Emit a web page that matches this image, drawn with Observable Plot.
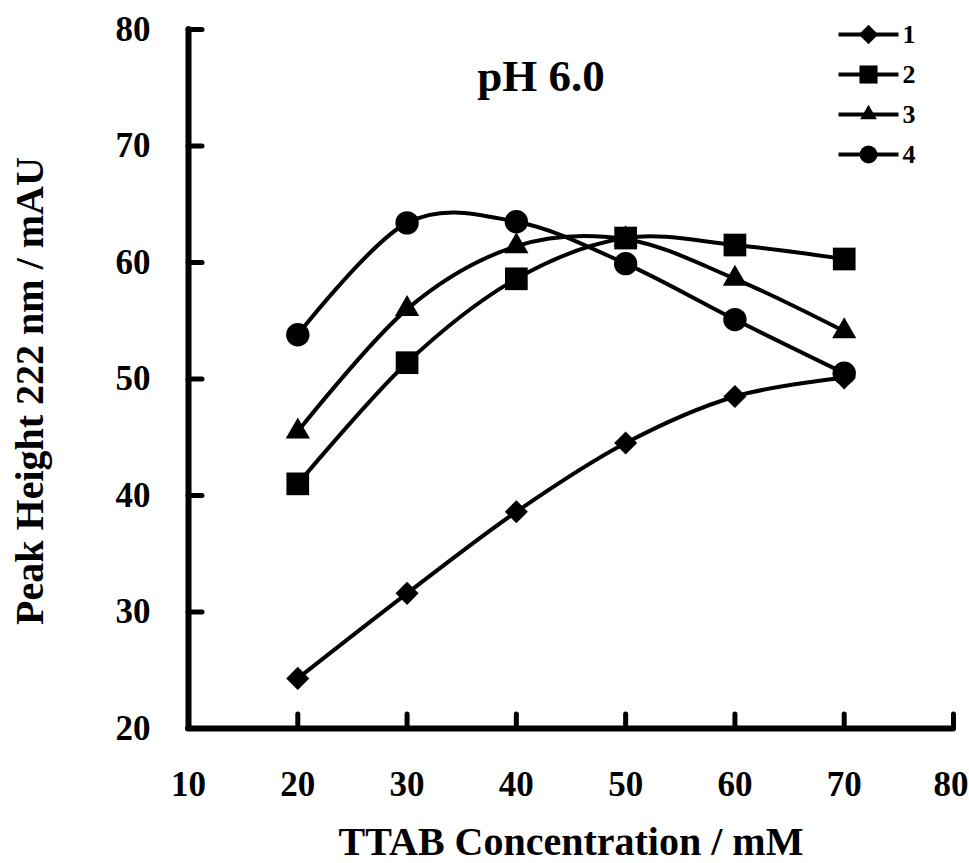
<!DOCTYPE html>
<html>
<head>
<meta charset="utf-8">
<script src="https://cdn.jsdelivr.net/npm/d3@7"></script>
<script src="https://cdn.jsdelivr.net/npm/@observablehq/plot@0.6"></script>
<style>
  html, body { margin: 0; padding: 0; background: #fff; }
  #chart { width: 969px; height: 863px; }
</style>
</head>
<body>
<div id="chart"></div>
<script>
// ---- data ----
const concentrations = [20, 30, 40, 50, 60, 70];
const series1 = [24.3, 31.6, 38.6, 44.5, 48.5, 50.1];
const series2 = [41.0, 51.4, 58.6, 62.1, 61.5, 60.3];
const series3 = [45.5, 56.0, 61.4, 62.0, 58.6, 54.1];
const series4 = [53.8, 63.4, 63.5, 59.9, 55.1, 50.5];
const seriesNames = ["1", "2", "3", "4"];
const seriesSymbols = ["diamond2", "square", "triangle", "circle"];
const xTicks = [10, 20, 30, 40, 50, 60, 70, 80];
const yTicks = [20, 30, 40, 50, 60, 70, 80];
const titleText = "pH 6.0";
const xLabel = "TTAB Concentration / mM";
const yLabel = "Peak Height 222 nm / mAU";

// ---- build table ----
const allSeries = [series1, series2, series3, series4];
const rows = allSeries.flatMap((vals, si) =>
  vals.map((v, i) => ({series: seriesNames[si], x: concentrations[i], y: v}))
);

// ---- layout ----
const W = 969, H = 863;
const mL = 188, mR = 16, mT = 29, mB = 135;
const plotW = W - mL - mR, plotH = H - mT - mB;
const tickLen = 14;
const font = "'Liberation Serif', 'Times New Roman', serif";

const markerR = {"1": 10.4, "2": 12.8, "3": 9, "4": 11.7};
const legendR = {"1": 8.8, "2": 10.2, "3": 6.2, "4": 9};
const markerOrder = [0, 2, 1, 3];

const lineSymbol = {
  draw(context) { context.moveTo(-30, 0); context.lineTo(30, 0); }
};

const tickFont = {tickSize: 0, fontSize: 35, fontWeight: "bold", label: null};

const marks = [
  // lines
  Plot.line(rows, {x: "x", y: "y", z: "series", curve: "cardinal", stroke: "black", strokeWidth: 4}),
  // markers
  ...markerOrder.map(si => {
    const name = seriesNames[si];
    return Plot.dot(rows.filter(d => d.series === name), {
      x: "x", y: "y", symbol: seriesSymbols[si], r: markerR[name], fill: "black", stroke: "none"
    });
  }),
  // axis lines
  Plot.ruleX([xTicks[0]], {y1: yTicks[0], y2: yTicks[yTicks.length - 1], strokeWidth: 6, strokeLinecap: "round"}),
  Plot.ruleY([yTicks[0]], {x1: xTicks[0], x2: xTicks[xTicks.length - 1], strokeWidth: 6, strokeLinecap: "round"}),
  // inward ticks
  Plot.tickY(yTicks, {y: d => d, insetRight: plotW - tickLen, strokeWidth: 5, strokeLinecap: "round"}),
  Plot.tickX(xTicks, {x: d => d, insetTop: plotH - tickLen, strokeWidth: 5, strokeLinecap: "round"}),
  // tick labels
  Plot.axisX(xTicks.slice(0, -1), {...tickFont, tickPadding: 43}),
  Plot.axisX(xTicks.slice(-1), {...tickFont, tickPadding: 43, textAnchor: "end", dx: 15}),
  Plot.axisY(yTicks, {...tickFont, tickPadding: 38}),
  // axis titles
  Plot.text([xLabel], {frameAnchor: "bottom", textAnchor: "middle", lineAnchor: "middle", dy: 114, fontSize: 40, fontWeight: "bold", text: d => d}),
  Plot.text([yLabel], {frameAnchor: "left", textAnchor: "middle", lineAnchor: "middle", rotate: -90, dx: -158, dy: 12, fontSize: 40, fontWeight: "bold", text: d => d}),
  // chart title
  Plot.text([titleText], {frameAnchor: "top", textAnchor: "middle", lineAnchor: "middle", dx: -30, dy: 47, fontSize: 45, fontWeight: "bold", text: d => d}),
  // legend
  ...seriesNames.flatMap((name, i) => [
    Plot.dot([name], {frameAnchor: "top-right", dx: -85, dy: 5 + 40 * i, symbol: lineSymbol, fill: "none", stroke: "black", strokeWidth: 4}),
    Plot.dot([name], {frameAnchor: "top-right", dx: -85, dy: 5 + 40 * i, symbol: seriesSymbols[i], r: legendR[name], fill: "black", stroke: "none"}),
    Plot.text([name], {frameAnchor: "top-right", dx: -51, dy: 5 + 40 * i, textAnchor: "start", lineAnchor: "middle", fontSize: 26, fontWeight: "bold", text: d => d})
  ])
];

const chart = Plot.plot({
  width: W,
  height: H,
  marginLeft: mL,
  marginRight: mR,
  marginTop: mT,
  marginBottom: mB,
  x: {domain: [xTicks[0], xTicks[xTicks.length - 1]], axis: null},
  y: {domain: [yTicks[0], yTicks[yTicks.length - 1]], axis: null},
  style: {fontFamily: font, fontWeight: "bold", background: "white", color: "black", overflow: "visible"},
  marks
});
document.getElementById("chart").appendChild(chart);
</script>
</body>
</html>
